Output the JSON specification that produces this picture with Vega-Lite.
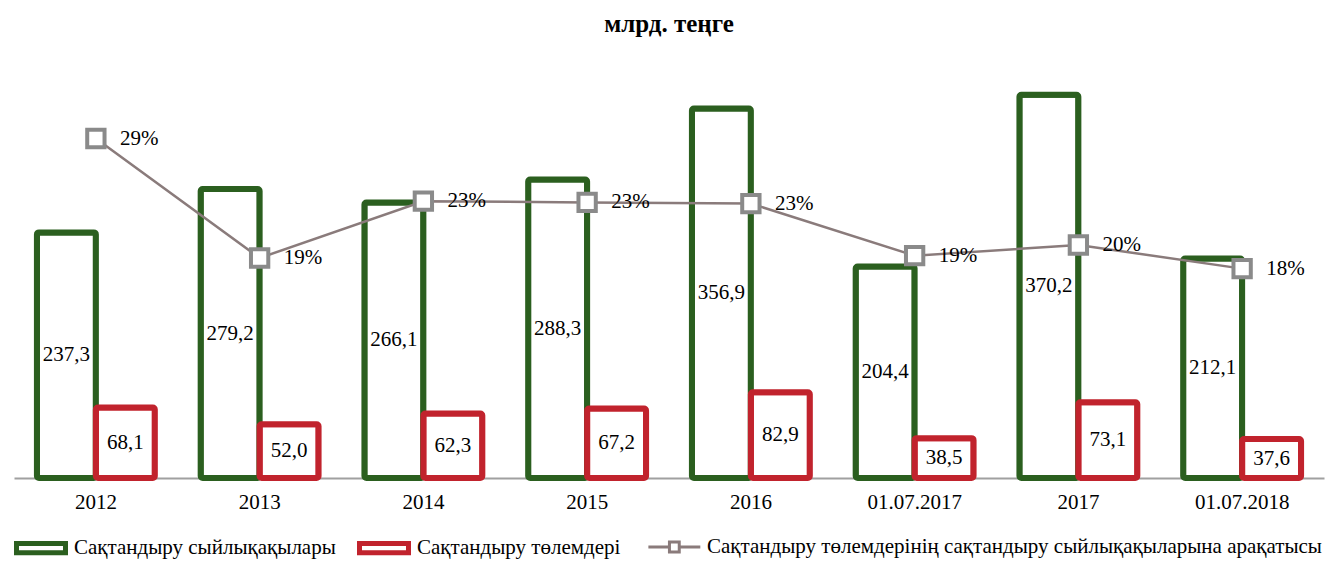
{
  "$schema": "https://vega.github.io/schema/vega-lite/v6.json",
  "autosize": "none",
  "width": 1310,
  "height": 414,
  "padding": {"left": 14, "top": 64, "right": 14, "bottom": 85},
  "background": "white",
  "title": {
    "text": "млрд. теңге",
    "font": "Liberation Serif",
    "fontSize": 25,
    "fontWeight": "bold",
    "color": "black",
    "anchor": "middle",
    "offset": 27
  },
  "config": {
    "view": {"stroke": null},
    "locale": {
      "number": {"decimal": ",", "thousands": " ", "grouping": [3], "currency": ["", ""], "percent": "%"}
    }
  },
  "datasets": {
    "bars": [
      {"cat": "2012", "series": "Сақтандыру сыйлықақылары", "value": 237.3},
      {"cat": "2012", "series": "Сақтандыру төлемдері", "value": 68.1},
      {"cat": "2013", "series": "Сақтандыру сыйлықақылары", "value": 279.2},
      {"cat": "2013", "series": "Сақтандыру төлемдері", "value": 52.0},
      {"cat": "2014", "series": "Сақтандыру сыйлықақылары", "value": 266.1},
      {"cat": "2014", "series": "Сақтандыру төлемдері", "value": 62.3},
      {"cat": "2015", "series": "Сақтандыру сыйлықақылары", "value": 288.3},
      {"cat": "2015", "series": "Сақтандыру төлемдері", "value": 67.2},
      {"cat": "2016", "series": "Сақтандыру сыйлықақылары", "value": 356.9},
      {"cat": "2016", "series": "Сақтандыру төлемдері", "value": 82.9},
      {"cat": "01.07.2017", "series": "Сақтандыру сыйлықақылары", "value": 204.4},
      {"cat": "01.07.2017", "series": "Сақтандыру төлемдері", "value": 38.5},
      {"cat": "2017", "series": "Сақтандыру сыйлықақылары", "value": 370.2},
      {"cat": "2017", "series": "Сақтандыру төлемдері", "value": 73.1},
      {"cat": "01.07.2018", "series": "Сақтандыру сыйлықақылары", "value": 212.1},
      {"cat": "01.07.2018", "series": "Сақтандыру төлемдері", "value": 37.6}
    ],
    "ratio": [
      {"cat": "2012", "ratio": 0.287, "series": "Сақтандыру төлемдерінің сақтандыру сыйлықақыларына арақатысы"},
      {"cat": "2013", "ratio": 0.186, "series": "Сақтандыру төлемдерінің сақтандыру сыйлықақыларына арақатысы"},
      {"cat": "2014", "ratio": 0.234, "series": "Сақтандыру төлемдерінің сақтандыру сыйлықақыларына арақатысы"},
      {"cat": "2015", "ratio": 0.233, "series": "Сақтандыру төлемдерінің сақтандыру сыйлықақыларына арақатысы"},
      {"cat": "2016", "ratio": 0.232, "series": "Сақтандыру төлемдерінің сақтандыру сыйлықақыларына арақатысы"},
      {"cat": "01.07.2017", "ratio": 0.188, "series": "Сақтандыру төлемдерінің сақтандыру сыйлықақыларына арақатысы"},
      {"cat": "2017", "ratio": 0.197, "series": "Сақтандыру төлемдерінің сақтандыру сыйлықақыларына арақатысы"},
      {"cat": "01.07.2018", "ratio": 0.177, "series": "Сақтандыру төлемдерінің сақтандыру сыйлықақыларына арақатысы"}
    ]
  },
  "encoding": {
    "x": {
      "field": "cat",
      "type": "nominal",
      "sort": ["2012", "2013", "2014", "2015", "2016", "01.07.2017", "2017", "01.07.2018"],
      "scale": {"paddingInner": 0.28, "paddingOuter": 0.14},
      "axis": {
        "title": null,
        "labelAngle": 0,
        "labelFont": "Liberation Serif",
        "labelFontSize": 21,
        "labelColor": "black",
        "labelPadding": 13,
        "ticks": false,
        "domainColor": "#a0a0a0",
        "domainWidth": 2,
        "grid": false
      }
    }
  },
  "layer": [
    {
      "data": {"name": "bars"},
      "mark": {"type": "bar", "fill": "white", "strokeWidth": 6, "cornerRadius": 2, "strokeJoin": "round"},
      "encoding": {
        "xOffset": {"field": "series", "type": "nominal", "sort": ["Сақтандыру сыйлықақылары", "Сақтандыру төлемдері"]},
        "y": {"field": "value", "type": "quantitative", "scale": {"domain": [0, 400], "nice": false}, "axis": null},
        "stroke": {
          "field": "series",
          "type": "nominal",
          "scale": {
            "domain": ["Сақтандыру сыйлықақылары", "Сақтандыру төлемдері"],
            "range": ["#2b5f1f", "#c1232d"]
          },
          "legend": {
            "orient": "bottom",
            "direction": "horizontal",
            "title": null,
            "offset": 9,
            "labelFont": "Liberation Serif",
            "labelFontSize": 21,
            "labelColor": "black",
            "labelLimit": 900,
            "labelOffset": 6,
            "columnPadding": 13,
            "symbolType": "M-1,-0.19H1V0.19H-1Z",
            "symbolSize": 2400,
            "symbolStrokeWidth": 5,
            "symbolFillColor": "white"
          }
        }
      }
    },
    {
      "data": {"name": "bars"},
      "mark": {"type": "text", "font": "Liberation Serif", "fontSize": 21, "color": "black", "baseline": "middle", "align": "center"},
      "encoding": {
        "xOffset": {"field": "series", "type": "nominal", "sort": ["Сақтандыру сыйлықақылары", "Сақтандыру төлемдері"]},
        "y": {"field": "value", "type": "quantitative", "scale": {"domain": [0, 800], "nice": false}, "axis": null},
        "text": {"field": "value", "type": "quantitative", "format": ".1f"}
      }
    },
    {
      "data": {"name": "ratio"},
      "mark": {"type": "line", "strokeWidth": 2.5},
      "encoding": {
        "y": {"field": "ratio", "type": "quantitative", "scale": {"domain": [0, 0.35], "nice": false}, "axis": null},
        "stroke": {
          "field": "series",
          "type": "nominal",
          "scale": {"range": ["#8a7b7b"]},
          "legend": {
            "orient": "bottom",
            "direction": "horizontal",
            "title": null,
            "offset": 9,
            "labelFont": "Liberation Serif",
            "labelFontSize": 21,
            "labelColor": "black",
            "labelLimit": 900,
            "labelOffset": 26,
            "symbolType": "M-0.27,0H0.59M0.99,0H1.85M0.59,-0.2H0.99V0.2H0.59Z",
            "symbolSize": 2400,
            "symbolStrokeWidth": 3,
            "symbolFillColor": "white"
          }
        }
      }
    },
    {
      "data": {"name": "ratio"},
      "mark": {"type": "point", "shape": "square", "size": 300, "filled": false, "fill": "white", "stroke": "#8a8a8a", "strokeWidth": 4, "opacity": 1},
      "encoding": {
        "y": {"field": "ratio", "type": "quantitative", "scale": {"domain": [0, 0.35], "nice": false}, "axis": null}
      }
    },
    {
      "data": {"name": "ratio"},
      "mark": {"type": "text", "font": "Liberation Serif", "fontSize": 21, "color": "black", "baseline": "middle", "align": "left", "dx": 24},
      "encoding": {
        "y": {"field": "ratio", "type": "quantitative", "scale": {"domain": [0, 0.35], "nice": false}, "axis": null},
        "text": {"field": "ratio", "type": "quantitative", "format": ".0%"}
      }
    }
  ],
  "resolve": {"scale": {"y": "independent", "stroke": "independent"}}
}
